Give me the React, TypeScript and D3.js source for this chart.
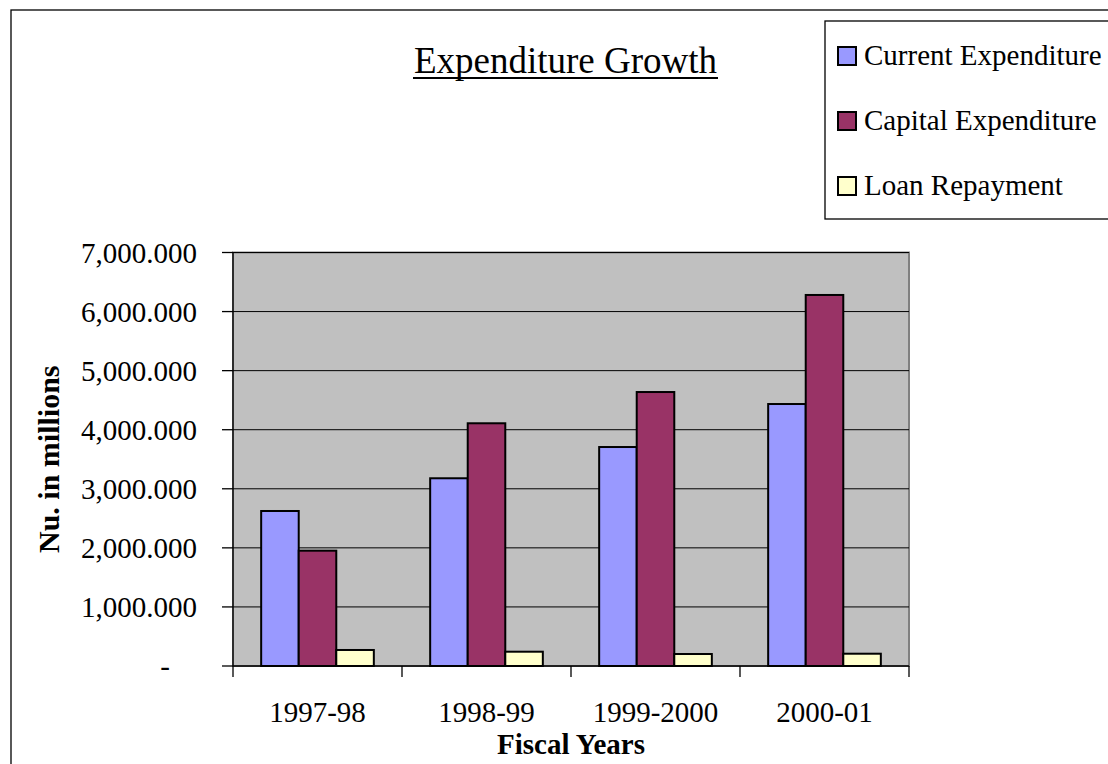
import React from "react";
import * as d3 from "d3";

const categories = ["1997-98", "1998-99", "1999-2000", "2000-01"];
const seriesNames = ["Current Expenditure", "Capital Expenditure", "Loan Repayment"];
const currentExp = [2624, 3178, 3707, 4435];
const capitalExp = [1952, 4109, 4638, 6281];
const loanRepay = [271, 242, 203, 208];
const yTicks = [0, 1000, 2000, 3000, 4000, 5000, 6000, 7000];
const seriesColors = ["#9999FF", "#993366", "#FFFFCC"];

const W = 1108;
const H = 764;
const FONT = "'Liberation Serif', 'Times New Roman', serif";

export default function App() {
  const plot = { left: 233, right: 909, top: 252.5, bottom: 666 };
  const x = d3.scaleBand<string>().domain(categories).range([plot.left, plot.right]).paddingInner(0).paddingOuter(0);
  const y = d3.scaleLinear().domain([0, 7000]).range([plot.bottom, plot.top]);
  const series = [currentExp, capitalExp, loanRepay];
  const bw = x.bandwidth() / 4.5;
  const inner = d3.scaleBand<number>().domain([0, 1, 2]).range([0, bw * 3]);
  const fmt = (v: number) => (v === 0 ? "-" : d3.format(",.3f")(v));

  return (
    <svg width={W} height={H} style={{ position: "absolute", left: 0, top: 0, display: "block", background: "#fff" }} fontFamily={FONT}>
      {/* outer chart border */}
      <rect x={11} y={10} width={W + 20} height={H + 20} fill="#fff" stroke="#000" strokeWidth={1.3} />

      {/* title */}
      <text x={565.5} y={73} textAnchor="middle" fontSize={37} fill="#000">Expenditure Growth</text>
      <line x1={413} x2={718} y1={78} y2={78} stroke="#000" strokeWidth={1.8} />

      {/* plot background */}
      <rect x={plot.left} y={plot.top} width={plot.right - plot.left} height={plot.bottom - plot.top} fill="#C0C0C0" stroke="#808080" strokeWidth={2} />

      {/* gridlines */}
      {yTicks.filter((t) => t > 0).map((t) => (
        <line key={"g" + t} x1={plot.left} x2={plot.right} y1={y(t)} y2={y(t)} stroke="#000" strokeWidth={1} />
      ))}

      {/* bars */}
      {categories.map((c, ci) => (
        <g key={c}>
          {series.map((s, si) => {
            const x0 = (x(c) as number) + bw * 0.75 + (inner(si) as number);
            return (
              <rect key={si} x={x0} y={y(s[ci])} width={inner.bandwidth()} height={y(0) - y(s[ci])}
                fill={seriesColors[si]} stroke="#000" strokeWidth={2} />
            );
          })}
        </g>
      ))}

      {/* y axis */}
      <line x1={plot.left} x2={plot.left} y1={plot.top} y2={plot.bottom} stroke="#000" strokeWidth={1.3} />
      {yTicks.map((t) => (
        <g key={"y" + t}>
          <line x1={plot.left - 11} x2={plot.left} y1={y(t)} y2={y(t)} stroke="#000" strokeWidth={1.3} />
          <text x={t === 0 ? 170 : 197} y={y(t) + 10} textAnchor="end" fontSize={29} fill="#000">{fmt(t)}</text>
        </g>
      ))}

      {/* x axis */}
      <line x1={plot.left} x2={plot.right} y1={plot.bottom} y2={plot.bottom} stroke="#000" strokeWidth={1.3} />
      {[...categories.map((c) => x(c) as number), plot.right].map((v, i) => (
        <line key={"xt" + i} x1={v} x2={v} y1={plot.bottom} y2={plot.bottom + 11} stroke="#000" strokeWidth={1.3} />
      ))}
      {categories.map((c) => (
        <text key={"xl" + c} x={(x(c) as number) + x.bandwidth() / 2} y={722} textAnchor="middle" fontSize={29} fill="#000">{c}</text>
      ))}

      {/* axis titles */}
      <text x={571} y={754} textAnchor="middle" fontSize={29} fontWeight="bold" fill="#000">Fiscal Years</text>
      <text transform={`translate(59, ${(plot.top + plot.bottom) / 2}) rotate(-90)`} textAnchor="middle" fontSize={30} fontWeight="bold" fill="#000">Nu. in millions</text>

      {/* legend */}
      <rect x={825} y={21} width={W} height={198} fill="#fff" stroke="#000" strokeWidth={1.3} />
      {seriesNames.map((n, i) => (
        <g key={n}>
          <rect x={838} y={47 + i * 65} width={18} height={18} fill={seriesColors[i]} stroke="#000" strokeWidth={2} />
          <text x={864} y={65 + i * 65} fontSize={29} fill="#000">{n}</text>
        </g>
      ))}
    </svg>
  );
}
